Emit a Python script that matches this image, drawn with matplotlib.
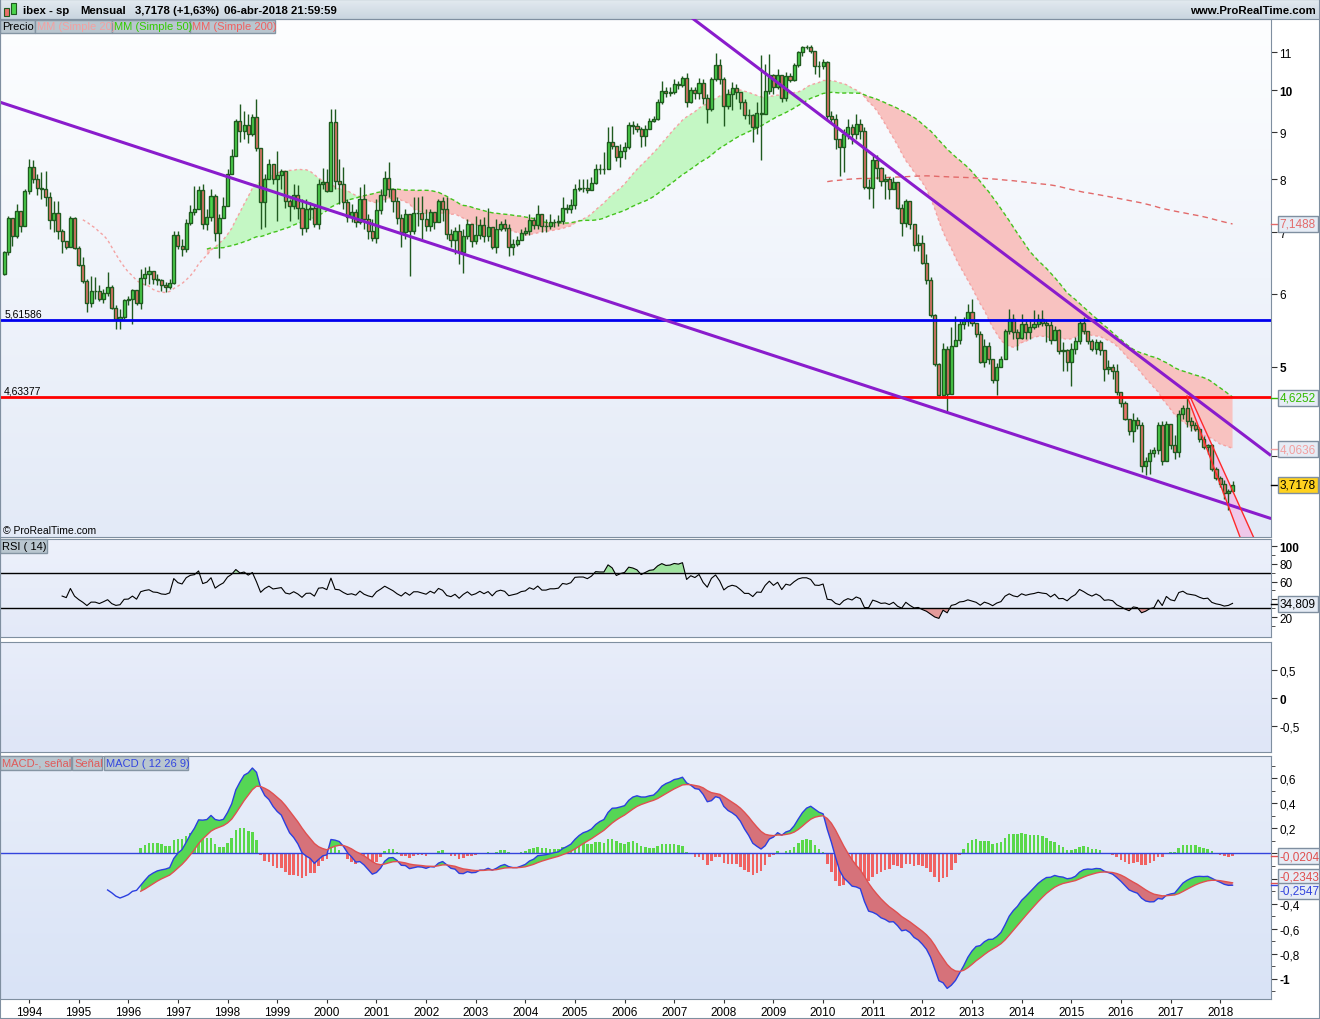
import numpy as np
import pandas as pd
import matplotlib
matplotlib.use("Agg")
import matplotlib.pyplot as plt
import matplotlib.colors as mcolors
from matplotlib.patches import Rectangle
from matplotlib.transforms import blended_transform_factory
from matplotlib.ticker import FixedLocator

plt.rcParams["font.family"] = ["Liberation Sans", "DejaVu Sans"]

W, H = 1320, 1020

# ---------------- DATA (monthly candles) ----------------
months = pd.period_range("1993-07", periods=298, freq="M")
first_open = 6.31
close = [
    6.66, 7.25, 6.94, 7.38, 7.12, 7.76, 8.25, 8.01, 7.83, 7.81, 7.64, 7.22, 7.35, 7.02, 6.85, 6.75,
    7.25, 6.73, 6.45, 6.20, 5.86, 6.05, 6.05, 5.92, 6.01, 6.11, 5.79, 5.63, 5.66, 5.91, 5.92, 6.06,
    5.86, 6.24, 6.31, 6.35, 6.23, 6.21, 6.13, 6.11, 6.17, 6.96, 6.77, 6.71, 7.16, 7.37, 7.43, 7.79,
    7.15, 7.27, 7.67, 6.99, 7.25, 7.47, 8.11, 8.48, 9.26, 9.02, 9.17, 8.96, 9.35, 8.64, 7.55, 8.01,
    8.31, 8.00, 8.08, 8.16, 7.58, 7.47, 7.69, 7.45, 7.07, 7.43, 7.45, 7.14, 7.90, 7.95, 7.77, 9.22,
    7.97, 7.90, 7.55, 7.28, 7.36, 7.18, 7.62, 7.24, 7.03, 6.90, 7.41, 7.69, 8.03, 7.81, 7.58, 7.25,
    7.00, 7.33, 7.03, 7.35, 7.35, 7.23, 7.12, 7.36, 7.19, 7.58, 7.43, 6.97, 6.86, 7.03, 6.66, 6.94,
    7.14, 6.85, 6.95, 7.13, 6.94, 7.09, 6.75, 7.06, 7.15, 7.07, 6.74, 6.80, 6.86, 6.99, 7.03, 7.22,
    7.13, 7.33, 7.11, 7.11, 7.18, 7.18, 7.21, 7.45, 7.42, 7.50, 7.81, 7.83, 7.83, 7.78, 7.92, 8.21,
    8.20, 8.20, 8.79, 8.70, 8.45, 8.59, 8.68, 9.17, 9.14, 9.08, 8.92, 9.08, 9.26, 9.31, 9.70, 9.98,
    9.92, 9.96, 10.15, 10.13, 10.30, 9.70, 10.00, 9.92, 10.18, 9.80, 9.54, 10.28, 10.65, 10.28, 9.60, 9.90,
    10.04, 9.96, 9.71, 9.39, 9.39, 9.12, 9.44, 9.42, 9.97, 10.38, 10.08, 10.38, 9.80, 10.35, 10.26, 10.65,
    10.99, 11.13, 11.13, 11.02, 10.63, 10.61, 10.73, 9.36, 9.30, 8.84, 8.66, 8.96, 9.11, 8.96, 9.18, 9.02,
    7.85, 7.83, 8.40, 8.22, 7.97, 8.00, 7.80, 7.95, 7.45, 7.17, 7.57, 7.15, 6.78, 6.81, 6.49, 6.21,
    5.69, 5.03, 4.66, 5.22, 4.67, 5.27, 5.35, 5.56, 5.60, 5.73, 5.58, 5.43, 5.06, 5.27, 5.10, 4.83,
    5.00, 5.09, 5.46, 5.63, 5.45, 5.37, 5.57, 5.45, 5.52, 5.56, 5.63, 5.58, 5.55, 5.35, 5.48, 5.20,
    5.21, 5.06, 5.22, 5.33, 5.58, 5.47, 5.33, 5.23, 5.32, 5.21, 4.97, 4.99, 4.94, 4.69, 4.56, 4.39,
    4.25, 4.37, 4.32, 3.90, 3.95, 4.03, 4.06, 4.32, 3.95, 4.33, 4.11, 4.04, 4.44, 4.51, 4.36, 4.32,
    4.28, 4.17, 4.09, 4.11, 3.87, 3.78, 3.73, 3.64, 3.66, 3.7178,
]
high = [
    6.68, 7.29, 7.20, 7.51, 7.38, 7.80, 8.41, 8.40, 8.10, 8.15, 8.17, 7.74, 7.58, 7.57, 7.06, 6.85,
    7.29, 7.27, 6.77, 6.58, 6.23, 6.28, 6.26, 6.13, 6.07, 6.34, 6.13, 5.83, 5.78, 5.92, 5.97, 6.07,
    5.97, 6.38, 6.41, 6.44, 6.36, 6.30, 6.23, 6.18, 6.23, 7.02, 7.02, 6.88, 7.24, 7.50, 7.87, 7.87,
    7.90, 7.42, 7.80, 7.70, 7.33, 7.65, 8.20, 8.62, 9.30, 9.66, 9.49, 9.42, 9.42, 9.79, 8.45, 8.10,
    8.41, 8.20, 8.59, 8.20, 8.10, 7.61, 7.90, 7.88, 7.61, 7.61, 7.55, 7.51, 8.00, 8.23, 8.20, 9.54,
    9.54, 8.41, 8.24, 7.61, 7.51, 7.42, 7.84, 7.90, 7.33, 7.24, 7.61, 7.80, 8.16, 8.34, 7.80, 7.64,
    7.33, 7.42, 7.33, 7.65, 7.64, 7.66, 7.42, 7.42, 7.33, 7.61, 7.65, 7.64, 7.06, 7.10, 7.15, 7.06,
    7.24, 7.10, 7.29, 7.24, 7.27, 7.45, 7.10, 7.24, 7.20, 7.24, 7.15, 6.88, 6.93, 7.06, 7.10, 7.33,
    7.27, 7.50, 7.33, 7.24, 7.33, 7.24, 7.31, 7.64, 7.51, 7.61, 7.90, 8.00, 8.00, 8.00, 8.04, 8.31,
    8.31, 8.57, 9.11, 9.15, 8.69, 8.73, 8.79, 9.23, 9.26, 9.20, 9.11, 9.16, 9.32, 9.37, 9.78, 10.24,
    10.08, 10.08, 10.28, 10.23, 10.36, 10.44, 10.08, 10.08, 10.32, 10.28, 9.90, 10.33, 10.97, 10.81, 10.33, 10.03,
    10.21, 10.15, 9.90, 9.78, 9.54, 9.41, 9.70, 10.92, 10.67, 10.94, 10.41, 10.54, 10.28, 10.46, 10.44, 10.70,
    11.03, 11.17, 11.20, 11.19, 11.03, 10.75, 10.81, 10.75, 9.49, 9.42, 8.84, 9.07, 9.30, 9.18, 9.42, 9.30,
    9.11, 8.00, 8.52, 8.49, 8.24, 8.10, 8.04, 8.04, 7.82, 7.51, 7.61, 7.38, 7.09, 6.97, 6.96, 6.63,
    6.26, 5.70, 5.05, 5.30, 5.26, 5.52, 5.67, 5.63, 5.66, 5.85, 5.92, 5.52, 5.47, 5.36, 5.32, 5.10,
    5.04, 5.13, 5.49, 5.78, 5.70, 5.49, 5.70, 5.63, 5.63, 5.76, 5.70, 5.76, 5.63, 5.60, 5.53, 5.49,
    5.32, 5.23, 5.30, 5.38, 5.63, 5.66, 5.43, 5.36, 5.36, 5.34, 5.16, 5.08, 5.03, 5.03, 4.67, 4.59,
    4.39, 4.45, 4.41, 4.35, 3.99, 4.07, 4.09, 4.35, 4.36, 4.36, 4.21, 4.21, 4.49, 4.54, 4.65, 4.41,
    4.35, 4.30, 4.20, 4.12, 4.12, 3.89, 3.80, 3.76, 3.68, 3.75,
]
low = [
    6.29, 6.62, 6.77, 6.91, 7.00, 7.13, 7.70, 7.93, 7.69, 7.61, 7.48, 7.06, 7.00, 6.88, 6.64, 6.71,
    6.74, 6.71, 6.44, 6.17, 5.73, 5.80, 5.92, 5.90, 5.87, 5.97, 5.78, 5.50, 5.50, 5.63, 5.83, 5.56,
    5.83, 5.78, 6.13, 6.15, 6.15, 6.13, 6.05, 6.03, 6.07, 6.15, 6.71, 6.60, 6.66, 7.13, 7.32, 7.42,
    7.06, 7.04, 7.20, 6.85, 6.56, 7.27, 7.55, 8.20, 8.52, 8.77, 8.84, 8.75, 8.91, 8.58, 7.06, 7.09,
    8.10, 7.90, 7.21, 7.80, 7.45, 7.21, 7.42, 7.24, 6.96, 7.00, 7.22, 7.09, 7.06, 7.80, 7.74, 7.80,
    7.80, 7.52, 7.42, 7.18, 7.18, 7.09, 7.15, 7.06, 6.88, 6.85, 6.81, 7.33, 7.56, 7.65, 7.37, 7.15,
    6.74, 6.88, 6.28, 6.97, 7.12, 6.88, 7.03, 7.03, 7.06, 7.20, 7.20, 6.88, 6.74, 6.63, 6.47, 6.33,
    6.88, 6.74, 6.80, 6.88, 6.83, 6.85, 6.71, 6.64, 7.03, 7.03, 6.60, 6.62, 6.76, 6.88, 6.95, 6.95,
    7.06, 7.06, 7.00, 7.00, 7.06, 7.09, 7.11, 7.15, 7.35, 7.35, 7.42, 7.76, 7.74, 7.72, 7.80, 7.90,
    8.10, 8.10, 8.20, 8.62, 8.38, 8.25, 8.41, 8.62, 8.96, 9.00, 8.68, 8.69, 9.07, 9.23, 9.28, 9.65,
    9.83, 9.85, 9.90, 10.03, 10.08, 9.58, 9.68, 9.78, 9.78, 9.65, 9.20, 9.49, 10.23, 10.15, 9.15, 9.54,
    9.52, 9.78, 9.54, 9.30, 9.18, 8.77, 8.96, 8.40, 9.42, 9.90, 9.90, 10.03, 9.70, 9.74, 10.20, 10.23,
    10.59, 10.89, 11.08, 10.97, 10.41, 10.33, 10.54, 9.30, 9.21, 8.62, 8.07, 8.14, 8.84, 8.73, 8.84, 8.84,
    7.80, 7.61, 7.45, 8.00, 7.86, 7.61, 7.61, 7.80, 7.42, 6.94, 7.09, 7.06, 6.68, 6.68, 6.47, 6.15,
    5.66, 5.01, 4.64, 4.64, 4.46, 4.67, 5.29, 5.29, 5.49, 5.54, 5.54, 5.39, 5.04, 4.99, 5.03, 4.80,
    4.66, 5.00, 5.10, 5.43, 5.36, 5.21, 5.36, 5.36, 5.36, 5.49, 5.52, 5.53, 5.32, 5.29, 5.36, 5.16,
    4.95, 4.94, 4.76, 5.16, 5.29, 5.43, 5.29, 5.20, 5.16, 5.15, 4.82, 4.91, 4.85, 4.66, 4.52, 4.37,
    4.21, 4.14, 4.28, 3.84, 3.81, 3.82, 3.99, 4.02, 3.91, 3.95, 4.07, 3.97, 3.99, 4.39, 4.30, 4.26,
    4.26, 4.14, 4.07, 4.02, 3.85, 3.76, 3.70, 3.59, 3.49, 3.66,
]

levels = [5.61586, 4.63377]
level_labels = ["5,61586", "4,63377"]
level_colors = ["#0000ee", "#ff0000"]

purple_lines = [[("1993-06", 9.70), ("2019-01", 3.42)],
                [("2007-05", 12.01), ("2019-01", 4.01)]]
channel_lines = [[("2017-05", 4.645), ("2018-08", 3.07)],
                 [("2017-06", 4.61), ("2018-11", 3.12)]]

years = list(range(1994, 2019))

ma_tags = [(7.1488, "7,1488", "#e36b6b"), (4.6252, "4,6252", "#33bb00"), (4.0636, "4,0636", "#f2a0a0")]
price_tag = (3.7178, "3,7178")
rsi_tag = (34.809, "34,809")
macd_tags = [(-0.0204, "-0,0204", "#e05050"), (-0.2343, "-0,2343", "#e05050"), (-0.2547, "-0,2547", "#3344dd")]
macd_tag_shift = [0.0, 0.047, -0.044]   # labels pushed apart so the boxes do not overlap

# ---------------- INDICATORS ----------------
c = pd.Series(close, dtype=float)
o = pd.Series([first_open] + close[:-1], dtype=float)
hi = np.maximum(np.array(high), np.maximum(o, c))
lo = np.minimum(np.array(low), np.minimum(o, c))
x = np.arange(len(c))

ma20 = c.rolling(20).mean()
ma50 = c.rolling(50).mean()
ma200 = c.rolling(200).mean()

d = c.diff().fillna(0)
gain = d.clip(lower=0).ewm(alpha=1 / 14, adjust=False).mean()
loss = (-d.clip(upper=0)).ewm(alpha=1 / 14, adjust=False).mean()
rsi = 100 - 100 / (1 + gain / loss)
rsi[:14] = np.nan

macd = c.ewm(span=12, adjust=False).mean() - c.ewm(span=26, adjust=False).mean()
macd[:25] = np.nan
signal = macd.ewm(span=9, adjust=False).mean()
signal[:33] = np.nan
hist = macd - signal


def idx(m):
    return (pd.Period(m, freq="M") - months[0]).n


def fmt(v):
    return f"{v:g}".replace(".", ",")


# ---------------- LAYOUT HELPERS ----------------
fig = plt.figure(figsize=(W / 100, H / 100), dpi=100)
fig.patch.set_facecolor("white")


def rect(x0, y0, x1, y1):
    return [x0 / W, 1 - y1 / H, (x1 - x0) / W, (y1 - y0) / H]


def panel(x0, y0, x1, y1, top, bottom):
    bg = fig.add_axes(rect(x0, y0, x1, y1), zorder=0)
    t = np.linspace(0, 1, 256)[:, None, None]
    img = np.array(mcolors.to_rgb(top)) * (1 - t) + np.array(mcolors.to_rgb(bottom)) * t
    bg.imshow(img, aspect="auto", extent=[0, 1, 0, 1])
    bg.axis("off")
    ax = fig.add_axes(rect(x0, y0, x1, y1), zorder=1)
    ax.patch.set_alpha(0)
    for s in ax.spines.values():
        s.set_color("#7f8fa0")
    ax.set_xlim(-1.02, 306.3)
    ax.yaxis.tick_right()
    ax.tick_params(axis="y", direction="out", length=4, labelsize=8.5, pad=2, color="#333333")
    ax.tick_params(axis="y", which="minor", direction="out", length=3, color="#333333")
    return ax


def set_yticks(ax, vals, bold=(), minor=(), hidden=()):
    ax.yaxis.set_major_locator(FixedLocator(vals))
    ax.yaxis.set_minor_locator(FixedLocator(list(minor)))
    ax.set_yticklabels(["" if v in hidden else fmt(v) for v in vals])
    for lab, v in zip(ax.get_yticklabels(), vals):
        if v in bold:
            lab.set_fontweight("bold")
    ax.yaxis.set_minor_formatter(plt.NullFormatter())


def box(x0, y0, x1, y1, text, color, fc="#b9c6cf", size=8):
    fig.add_artist(Rectangle((x0 / W, 1 - y1 / H), (x1 - x0) / W, (y1 - y0) / H,
                             transform=fig.transFigure, fc=fc, ec="#8595a3", lw=1, zorder=5))
    fig.text((x0 + 2) / W, 1 - (y0 + y1) / 2 / H, text, color=color, fontsize=size,
             va="center", ha="left", zorder=6)


def tag(ax, y, text, color, fc="#e6ecf5", ty=None):
    tr = blended_transform_factory(ax.transAxes, ax.transData)
    ax.plot([1.0, 1.0045], [y, y], transform=tr, color=color, lw=1, clip_on=False, zorder=9)
    ax.text(1.0068, y if ty is None else ty, text, transform=tr, color=color, fontsize=8.5,
            va="center", ha="left", clip_on=False, zorder=10,
            bbox=dict(boxstyle="square,pad=0.18", fc=fc, ec="#7f8fa0", lw=1))


# ---------------- HEADER ----------------
head = panel(0, 0, W, 20, "#e4ebf1", "#c9d5df")
head.set_xticks([])
head.set_yticks([])
fig.add_artist(Rectangle((4 / W, 1 - 17 / H), 5 / W, 8 / H, transform=fig.transFigure,
                         fc="#e8706a", ec="#1e5a1e", lw=0.8, zorder=6))
fig.add_artist(Rectangle((11 / W, 1 - 15 / H), 5 / W, 11 / H, transform=fig.transFigure,
                         fc="#4cd44c", ec="#1e5a1e", lw=0.8, zorder=6))
for xp, s in [(23, "ibex - sp"), (80, "Mensual"), (135, "3,7178 (+1,63%)"), (224, "06-abr-2018 21:59:59")]:
    fig.text(xp / W, 1 - 11 / H, s, fontsize=8.2, fontweight="bold", va="center", ha="left", zorder=6)
fig.text(1316 / W, 1 - 11 / H, "www.ProRealTime.com", fontsize=8.2, fontweight="bold",
         va="center", ha="right", zorder=6)

# ---------------- MAIN PRICE PANEL ----------------
ax = panel(0, 20, 1271, 538, "#fdfeff", "#e3eaf7")
ax.set_yscale("log")
ax.set_ylim(3.262, 11.95)
set_yticks(ax, [4, 5, 6, 7, 8, 9, 10, 11], bold=(5, 10), hidden=(4,))
ax.set_xticks([])

m20, m50 = ma20.values, ma50.values
ax.fill_between(x, m20, m50, where=m20 >= m50, interpolate=True, color="#c4f7c4", lw=0, zorder=1)
ax.fill_between(x, m20, m50, where=m20 < m50, interpolate=True, color="#f8c2c0", lw=0, zorder=1)
ax.plot(x, ma20, color="#f4a3a3", lw=1, ls=(0, (2, 2)), zorder=2)
ax.plot(x, ma50, color="#44c21c", lw=1, ls=(0, (3, 2)), zorder=2)
ax.plot(x, ma200, color="#e26a6a", lw=1, ls=(0, (4, 3)), zorder=2)

# channel fill + lines
(a0, a1), (b0, b1) = channel_lines
ax.fill([idx(a0[0]), idx(a1[0]), idx(b1[0]), idx(b0[0])], [a0[1], a1[1], b1[1], b0[1]],
        color="#efc8ea", lw=0, zorder=1.5)

up = (c >= o).values
ax.vlines(x, lo, hi, color="#1f5a1f", lw=1, zorder=3)
ax.bar(x, np.abs(c - o), bottom=np.minimum(o, c), width=0.74,
       color=np.where(up, "#4cd44c", "#e8736c"), edgecolor="#1f5a1f", linewidth=1, zorder=4)

for lv, col in zip(levels, level_colors):
    ax.axhline(lv, color=col, lw=2, zorder=6)
for lv, lab in zip(levels, level_labels):
    ax.text(0.002, lv * 1.004, lab, fontsize=7.5, va="bottom", ha="left", zorder=7)

for p0, p1 in purple_lines:
    ax.plot([idx(p0[0]), idx(p1[0])], [p0[1], p1[1]], color="#8a1ccc", lw=2.2, zorder=6)
for p0, p1 in channel_lines:
    ax.plot([idx(p0[0]), idx(p1[0])], [p0[1], p1[1]], color="#ff2a2a", lw=1, zorder=6)

for v, s, col in ma_tags:
    tag(ax, v, s, col)
tag(ax, price_tag[0], price_tag[1], "black", fc="#ffd21f")

box(0, 21, 35, 34, "Precio", "black")
box(35, 21, 112, 34, "MM (Simple 20)", "#f4a0a0")
box(112, 21, 190, 34, "MM (Simple 50)", "#33cc00")
box(190, 21, 275, 34, "MM (Simple 200)", "#f06060")
fig.text(3 / W, 1 - 531 / H, "© ProRealTime.com", fontsize=7.5, va="center", ha="left", zorder=6)

# ---------------- RSI PANEL ----------------
ar = panel(0, 540, 1271, 638, "#edf1fb", "#e3e9f8")
ar.set_ylim(-2.5, 107.9)
set_yticks(ar, [20, 40, 60, 80, 100], bold=(100,), minor=(10, 30, 50, 70, 90), hidden=(40,))
ar.set_xticks([])
rv = rsi.values
ar.fill_between(x, rv, 70, where=rv > 70, interpolate=True, color="#9fe39f", lw=0, zorder=1)
ar.fill_between(x, rv, 30, where=rv < 30, interpolate=True, color="#e39b9b", lw=0, zorder=1)
ar.axhline(70, color="black", lw=1, zorder=2)
ar.axhline(30, color="black", lw=1, zorder=2)
ar.plot(x, rsi, color="black", lw=0.8, zorder=3)
tag(ar, rsi_tag[0], rsi_tag[1], "black")
box(0, 540, 47, 554, "RSI ( 14)", "black")

# ---------------- EMPTY MIDDLE PANEL ----------------
am = panel(0, 643, 1271, 753, "#e8edfa", "#dfe6f7")
am.set_ylim(-0.964, 1.0)
set_yticks(am, [-0.5, 0, 0.5], bold=(0,))
am.set_xticks([])

# ---------------- MACD PANEL ----------------
ac = panel(0, 757, 1271, 1000, "#e8eefa", "#d9e3f6")
ac.set_ylim(-1.16, 0.777)
set_yticks(ac, [-1, -0.8, -0.6, -0.4, -0.2, 0, 0.2, 0.4, 0.6], bold=(-1,),
           minor=(-1.1, -0.9, -0.7, -0.5, -0.3, -0.1, 0.1, 0.3, 0.5, 0.7), hidden=(0, -0.2))
hv = hist.values
ac.bar(x, np.nan_to_num(hv), width=0.62, color=np.where(hv >= 0, "#5ad84a", "#f06262"), zorder=1)
ac.axhline(0, color="#3344dd", lw=1, zorder=2)
mv, sv = macd.values, signal.values
ac.fill_between(x, mv, sv, where=mv >= sv, interpolate=True, color="#55d655", lw=0, zorder=3)
ac.fill_between(x, mv, sv, where=mv < sv, interpolate=True, color="#d6727a", lw=0, zorder=3)
ac.plot(x, macd, color="#2b3fe0", lw=1, zorder=4)
ac.plot(x, signal, color="#e05050", lw=1, zorder=4)
for (v, s, col), dv in zip(macd_tags, macd_tag_shift):
    tag(ac, v, s, col, ty=v + dv)
box(0, 757, 71, 771, "MACD-, señal", "#e05a5a")
box(72, 757, 102, 771, "Señal", "#e05a5a")
box(104, 757, 188, 771, "MACD ( 12 26 9)", "#3346e0")

ac.set_xticks([idx(f"{y}-01") for y in years])
ac.set_xticklabels([str(y) for y in years])
ac.tick_params(axis="x", direction="out", length=3, labelsize=8.5, pad=2, color="#333333")

# outer frame
fig.add_artist(Rectangle((0, 0), 1, 1, transform=fig.transFigure, fill=False,
                         ec="#7f8fa0", lw=1.5, zorder=8))

fig.savefig("out.png", dpi=100)
